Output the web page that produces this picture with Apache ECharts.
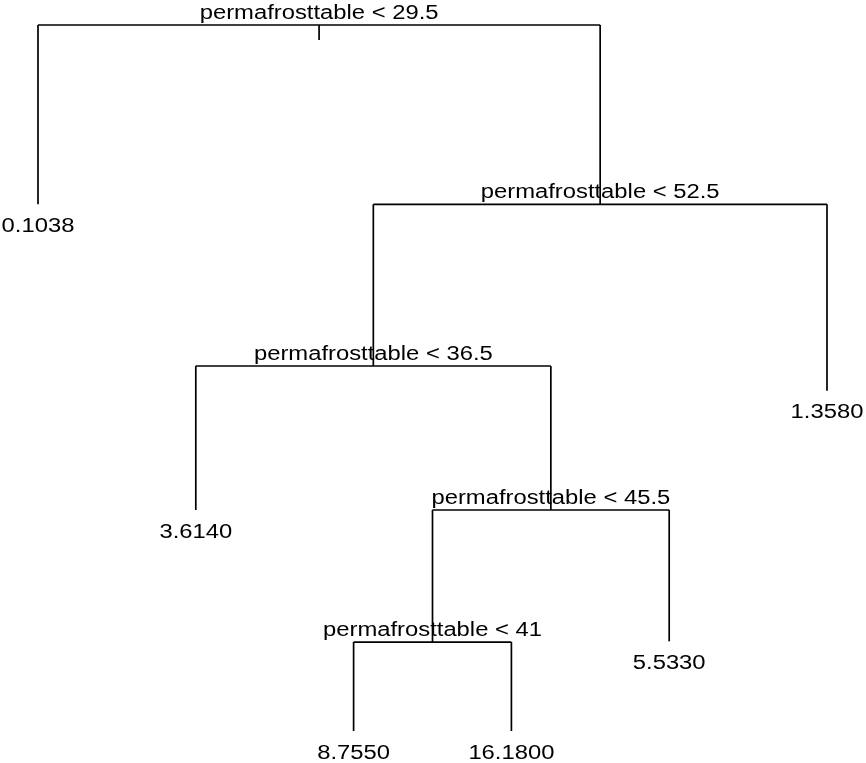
<!DOCTYPE html>
<html>
<head>
<meta charset="utf-8">
<script src="https://cdn.jsdelivr.net/npm/echarts@6/dist/echarts.min.js"></script>
<style>
html,body{margin:0;padding:0;background:#fff;}
#chart{width:866px;height:763px;}
</style>
</head>
<body>
<div id="chart"></div>
<script>
// rpart node numbering: children of n are 2n and 2n+1
const nodeIds = [1, 2, 3, 6, 7, 12, 13, 26, 27, 52, 53];
const nodeLabels = [
  'permafrosttable < 29.5', '0.1038', 'permafrosttable < 52.5',
  'permafrosttable < 36.5', '1.3580', '3.6140', 'permafrosttable < 45.5',
  'permafrosttable < 41', '5.5330', '8.7550', '16.1800'
];
// node heights (deviance-scaled, root = 1, deepest leaves = 0)
const nodeHeights = [1.0, 0.746, 0.746, 0.517, 0.482, 0.313, 0.313, 0.126, 0.127, 0, 0];

const idx = {};
nodeIds.forEach((id, i) => { idx[id] = i; });
const isLeaf = id => !((2 * id) in idx);
const hOf = id => nodeHeights[idx[id]];

// classic rpart layout: leaves at 1..n in order, parents centred over children
const xPos = {};
let leafCounter = 0;
function layout(id) {
  if (isLeaf(id)) { leafCounter++; xPos[id] = leafCounter; return xPos[id]; }
  const a = layout(2 * id), b = layout(2 * id + 1);
  xPos[id] = (a + b) / 2;
  return xPos[id];
}
layout(1);

const segments = [];
nodeIds.forEach(id => {
  if (isLeaf(id)) return;
  const l = 2 * id, r = 2 * id + 1, h = hOf(id);
  segments.push([xPos[l], h, xPos[r], h]);
  segments.push([xPos[l], h, xPos[l], hOf(l)]);
  segments.push([xPos[r], h, xPos[r], hOf(r)]);
});

const labelData = nodeIds.map((id, i) => [xPos[id], nodeHeights[i], i, isLeaf(id) ? 1 : 0]);

const FONT = '20px "Liberation Sans", Arial, sans-serif';
const SX = 1.19;
const LW = 1.7;

const chart = echarts.init(document.getElementById('chart'), null, { renderer: 'canvas' });
chart.setOption({
  backgroundColor: '#ffffff',
  animation: false,
  grid: { left: 38, right: 39, top: 25, bottom: 32 },
  xAxis: { type: 'value', min: 1, max: 6, show: false },
  yAxis: { type: 'value', min: 0, max: 1, show: false },
  series: [
    {
      type: 'custom',
      coordinateSystem: 'cartesian2d',
      dimensions: ['x1', 'y1', 'x2', 'y2'],
      encode: { x: [0, 2], y: [1, 3] },
      data: segments,
      silent: true,
      renderItem: function (params, api) {
        const p1 = api.coord([api.value(0), api.value(1)]);
        const p2 = api.coord([api.value(2), api.value(3)]);
        return {
          type: 'line',
          shape: { x1: p1[0], y1: p1[1], x2: p2[0], y2: p2[1] },
          style: { stroke: '#000', lineWidth: LW }
        };
      }
    },
    {
      type: 'custom',
      coordinateSystem: 'cartesian2d',
      data: [[xPos[1], hOf(1)]],
      silent: true,
      renderItem: function (params, api) {
        const p = api.coord([api.value(0), api.value(1)]);
        return {
          type: 'line',
          shape: { x1: p[0], y1: p[1], x2: p[0], y2: p[1] + 15 },
          style: { stroke: '#000', lineWidth: LW }
        };
      }
    },
    {
      type: 'custom',
      coordinateSystem: 'cartesian2d',
      dimensions: ['x', 'y', 'i', 'leaf'],
      encode: { x: 0, y: 1 },
      data: labelData,
      silent: true,
      renderItem: function (params, api) {
        const p = api.coord([api.value(0), api.value(1)]);
        const leaf = api.value(3) === 1;
        return {
          type: 'text',
          x: p[0],
          y: leaf ? p[1] + 22 : p[1] - 12,
          scaleX: SX,
          style: {
            text: nodeLabels[api.value(2)],
            x: 0, y: 0,
            align: 'center',
            verticalAlign: 'middle',
            font: FONT,
            fill: '#000'
          }
        };
      }
    }
  ]
});
</script>
</body>
</html>
